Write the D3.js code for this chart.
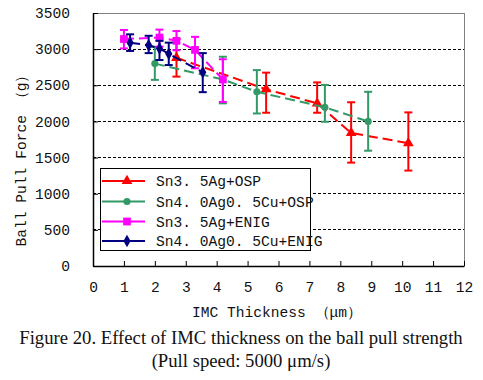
<!DOCTYPE html>
<html><head><meta charset="utf-8">
<script src="https://cdn.jsdelivr.net/npm/d3@7"></script>
<style>body{margin:0;background:#fff}svg{display:block}</style>
</head><body>
<svg id="c" width="483" height="380"></svg>
<script>
// ---- data ----
const seriesNames = ["Sn3. 5Ag+OSP", "Sn4. 0Ag0. 5Cu+OSP", "Sn3. 5Ag+ENIG", "Sn4. 0Ag0. 5Cu+ENIG"];
const seriesColors = ["#ff0000", "#339966", "#ff00ff", "#000080"];
const seriesSymbols = ["triangle", "circle", "square", "diamond"];

const redX = [2.7, 5.6, 7.25, 8.35, 10.2];
const redY = [2880, 2445, 2250, 1840, 1700];
const redLo = [2620, 2120, 2120, 1430, 1320];
const redHi = [3140, 2675, 2540, 2265, 2125];

const greenX = [2.0, 4.2, 5.3, 7.5, 8.9];
const greenY = [2800, 2580, 2410, 2195, 2000];
const greenLo = [2575, 2250, 2110, 1995, 1595];
const greenHi = [3030, 2895, 2710, 2505, 2410];

const magX = [1.0, 2.15, 2.7, 3.3, 4.2];
const magY = [3140, 3160, 3115, 2990, 2580];
const magLo = [3010, 3035, 2985, 2735, 2270];
const magHi = [3265, 3270, 3250, 3170, 2860];

const navyX = [1.2, 1.8, 2.15, 2.45, 3.55];
const navyY = [3090, 3055, 3010, 2935, 2680];
const navyLo = [2975, 2945, 2850, 2780, 2405];
const navyHi = [3205, 3185, 3115, 3090, 2945];

const xTicks = [0,1,2,3,4,5,6,7,8,9,10,11,12];
const yTicks = [0,500,1000,1500,2000,2500,3000,3500];
const gridVals = [500,1000,1500,2000,2500,3000];

const xTitle = "IMC Thickness （μm）";
const yTitle = "Ball Pull Force （g）";
const caption1 = "Figure 20. Effect of IMC thickness on the ball pull strength";
const caption2 = "(Pull speed: 5000 μm/s)";

// ---- layout ----
const L = 93, R = 464, T = 13, B = 266;
const x = d3.scaleLinear().domain([0, 12]).range([L, R]);
const y = d3.scaleLinear().domain([0, 3500]).range([B, T]);
const svg = d3.select("#c");
const mono = "'Liberation Mono', 'DejaVu Sans Mono', monospace";

// gridlines
svg.append("g").selectAll("line").data(gridVals).join("line")
  .attr("x1", L).attr("x2", R).attr("y1", d => y(d)).attr("y2", d => y(d))
  .attr("stroke", "#000").attr("stroke-width", 1).attr("stroke-dasharray", "3,2")
  .attr("shape-rendering", "crispEdges");

// frame top/right gray
svg.append("path").attr("d", `M${L},${T}H${R}V${B}`).attr("fill", "none")
  .attr("stroke", "#808080").attr("stroke-width", 1).attr("shape-rendering", "crispEdges");

// axes
const xAxis = d3.axisBottom(x).tickValues(xTicks).tickFormat(d3.format("d")).tickSizeInner(-5).tickSizeOuter(0).tickPadding(16);
const yAxis = d3.axisLeft(y).tickValues(yTicks).tickFormat(d3.format("d")).tickSizeInner(-5).tickSizeOuter(0).tickPadding(23);
const gx = svg.append("g").attr("transform", `translate(0,${B})`).call(xAxis);
const gy = svg.append("g").attr("transform", `translate(${L},0)`).call(yAxis);
[gx, gy].forEach(g => {
  g.select(".domain").attr("stroke", "#000").attr("stroke-width", 1.5);
  g.selectAll(".tick line").attr("stroke", "#000");
  g.selectAll("text").attr("font-family", mono).attr("font-size", 14.6).attr("fill", "#111");
});
gx.selectAll(".tick text").attr("dy", "0.35em").attr("y", 21);

// titles
svg.append("text").attr("x", 277).attr("y", 312).attr("dy", "0.35em").attr("text-anchor", "middle")
  .attr("font-family", mono).attr("font-size", 14.6).attr("fill", "#111").text(xTitle);
svg.append("text").attr("transform", "translate(21,157) rotate(-90)").attr("dy", "0.35em")
  .attr("text-anchor", "middle").attr("font-family", mono).attr("font-size", 14.6).attr("fill", "#111").text(yTitle);
svg.append("text").attr("x", 241).attr("y", 344).attr("text-anchor", "middle")
  .attr("font-family", "'Liberation Serif', 'Times New Roman', serif").attr("font-size", 18.7).attr("fill", "#111").text(caption1);
svg.append("text").attr("x", 241).attr("y", 367).attr("text-anchor", "middle")
  .attr("font-family", "'Liberation Serif', 'Times New Roman', serif").attr("font-size", 18.7).attr("fill", "#111").text(caption2);

// series
const seriesData = [
  [redX, redY, redLo, redHi],
  [greenX, greenY, greenLo, greenHi],
  [magX, magY, magLo, magHi],
  [navyX, navyY, navyLo, navyHi]
];
const symType = {triangle: d3.symbolTriangle, circle: d3.symbolCircle, square: d3.symbolSquare, diamond: d3.symbolDiamond};
const symSize = {triangle: 50, circle: 40, square: 60, diamond: 45};
const line = d3.line().x(d => x(d[0])).y(d => y(d[1]));

seriesData.forEach((s, i) => {
  const [xs, ys, lo, hi] = s;
  const pts = xs.map((v, j) => [v, ys[j], lo[j], hi[j]]);
  const col = seriesColors[i];
  const g = svg.append("g");
  g.append("path").attr("d", line(pts)).attr("fill", "none").attr("stroke", col)
    .attr("stroke-width", 2).attr("stroke-dasharray", "10,5");
  const eb = g.selectAll(".eb").data(pts).join("g");
  eb.append("line").attr("x1", d => x(d[0])).attr("x2", d => x(d[0]))
    .attr("y1", d => y(d[2])).attr("y2", d => y(d[3])).attr("stroke", col).attr("stroke-width", 2);
  [2, 3].forEach(k => eb.append("line").attr("x1", d => x(d[0]) - 4).attr("x2", d => x(d[0]) + 4)
    .attr("y1", d => y(d[k])).attr("y2", d => y(d[k])).attr("stroke", col).attr("stroke-width", 2));
  g.selectAll(".m").data(pts).join("path")
    .attr("transform", d => `translate(${x(d[0])},${y(d[1])})`)
    .attr("d", d3.symbol(symType[seriesSymbols[i]], symSize[seriesSymbols[i]])).attr("fill", col);
});

// legend
const lg = svg.append("g");
lg.append("rect").attr("x", 100.5).attr("y", 168.5).attr("width", 210).attr("height", 82)
  .attr("fill", "#fff").attr("stroke", "#000").attr("stroke-width", 1);
const rowY = [181, 201.5, 221.5, 241];
seriesNames.forEach((n, i) => {
  const col = seriesColors[i];
  lg.append("line").attr("x1", 102).attr("x2", 145).attr("y1", rowY[i]).attr("y2", rowY[i])
    .attr("stroke", col).attr("stroke-width", 2);
  lg.append("path").attr("transform", `translate(127,${rowY[i]})`)
    .attr("d", d3.symbol(symType[seriesSymbols[i]], symSize[seriesSymbols[i]])).attr("fill", col);
  lg.append("text").attr("x", 156).attr("y", rowY[i]).attr("dy", "0.35em")
    .attr("font-family", mono).attr("font-size", 14.6).attr("fill", "#111").text(n);
});
</script>
</body></html>
